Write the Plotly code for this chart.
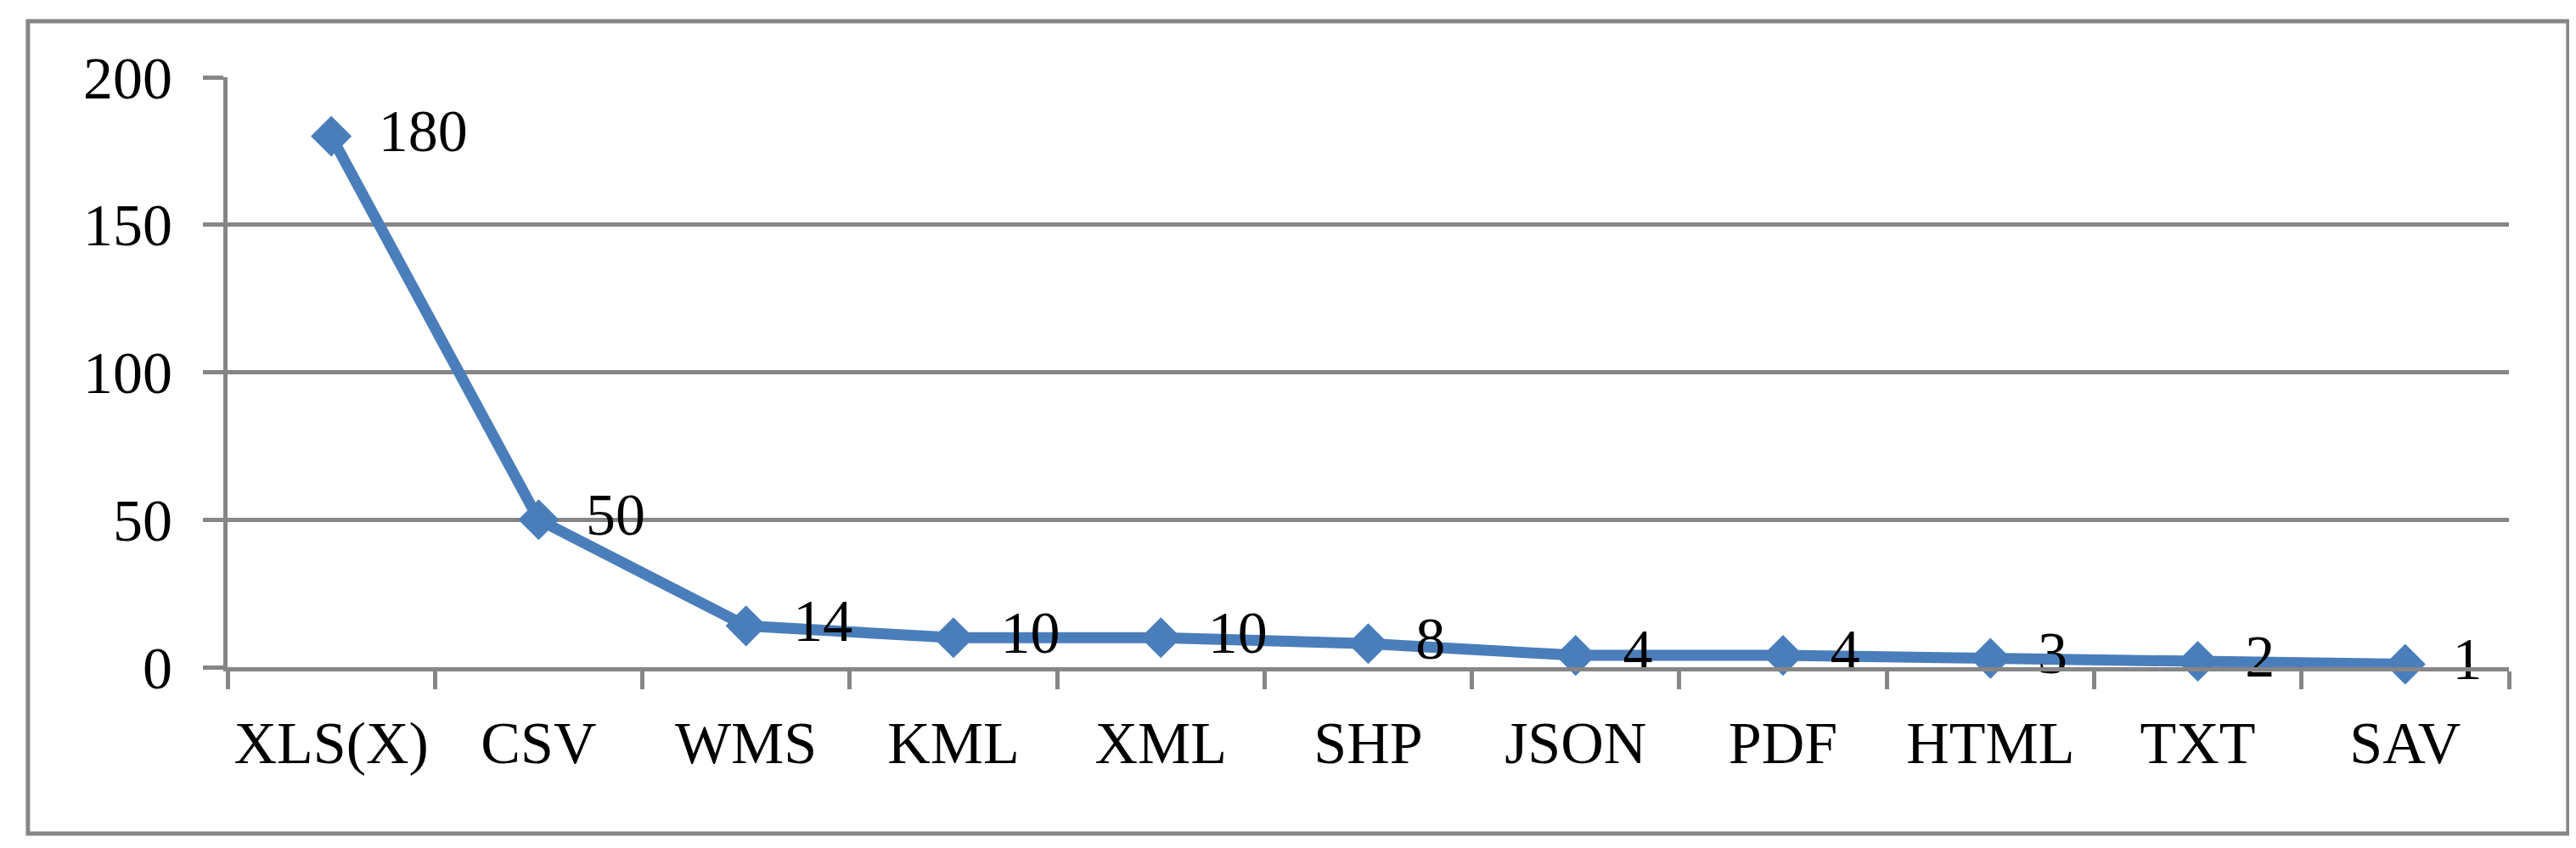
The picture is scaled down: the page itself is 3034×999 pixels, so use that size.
import plotly.graph_objects as go

# data
formats = ["XLS(X)", "CSV", "WMS", "KML", "XML", "SHP", "JSON", "PDF", "HTML", "TXT", "SAV"]
counts = [180, 50, 14, 10, 10, 8, 4, 4, 3, 2, 1]
y_ticks = [0, 50, 100, 150, 200]

GRID = "#868686"
BLUE = "#4A7EBB"
FONT = "Liberation Serif, Times New Roman, serif"

fig = go.Figure(
    go.Scatter(
        x=formats,
        y=counts,
        mode="lines+markers+text",
        line=dict(color=BLUE, width=13),
        marker=dict(symbol="diamond", size=37, color=BLUE),
        # small spaces push the value label a bit further from the marker
        text=["\u2005\u2009" + str(c) for c in counts],
        textposition="middle right",
        textfont=dict(family=FONT, size=70, color="black"),
        cliponaxis=False,
        showlegend=False,
    )
)

fig.update_layout(
    width=3034,
    height=999,
    margin=dict(l=260, r=87, t=83, b=221),
    paper_bgcolor="white",
    plot_bgcolor="white",
    font=dict(family=FONT, size=70, color="black"),
    # outer chart border
    shapes=[
        dict(type="rect", xref="paper", yref="paper",
             x0=-0.0875, x1=1.0260, y0=-0.2820, y1=1.0950,
             line=dict(color=GRID, width=5), layer="below"),
    ],
)

fig.update_xaxes(
    type="category",
    range=[-0.5, len(formats) - 0.5],
    tickson="boundaries",
    ticks="outside",
    ticklen=21,
    tickwidth=5,
    tickcolor=GRID,
    showline=True,
    linecolor=GRID,
    linewidth=5,
    showgrid=False,
    ticklabelstandoff=24,
)

fig.update_yaxes(
    range=[0, 200],
    tickvals=y_ticks,
    ticks="outside",
    ticklen=24,
    tickwidth=5,
    tickcolor=GRID,
    showline=True,
    linecolor=GRID,
    linewidth=5,
    showgrid=True,
    gridcolor=GRID,
    gridwidth=5,
    zeroline=False,
    ticklabelstandoff=22,
)

fig.write_html("out.html")
